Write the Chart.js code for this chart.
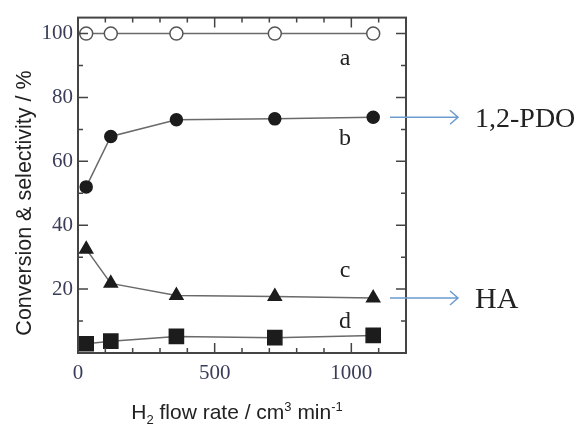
<!DOCTYPE html>
<html>
<head>
<meta charset="utf-8">
<script src="https://cdn.jsdelivr.net/npm/chart.js@4"></script>
<style>
  body { margin: 0; background: #fff; }
</style>
</head>
<body>
<canvas id="chart" width="580" height="425"></canvas>
<script>
// H2 flow rate (cm3/min)
const flowRates = [30, 120, 360, 720, 1080];
// a: conversion, b: 1,2-PDO selectivity, c: HA selectivity, d: others
const seriesA = [100, 100, 100, 100, 100];
const seriesB = [52, 67.8, 73, 73.3, 73.8];
const seriesC = [32.5, 21.8, 18, 17.7, 17.2];
const seriesD = [2.9, 3.7, 5.2, 4.8, 5.5];
const curveLabels = ["a", "b", "c", "d"];
const xLabelTicks = [0, 500, 1000];
const yLabelTicks = [20, 40, 60, 80, 100];

const toPoints = arr => arr.map((y, i) => ({ x: flowRates[i], y }));
const lineColor = "#6a6a6a";
const markColor = "#1c1c1c";
const tickColor = "#3a3d58";

function makeSet(label, data, style, radius, filled) {
  return {
    label,
    data: toPoints(data),
    borderColor: lineColor,
    borderWidth: 1.5,
    pointStyle: style,
    pointRadius: radius,
    pointHoverRadius: radius,
    pointBackgroundColor: filled ? markColor : "#fff",
    pointBorderColor: filled ? markColor : "#555",
    pointBorderWidth: 1.5,
    tension: 0
  };
}

// frame, inward ticks, titles and side notes
const extras = {
  id: "extras",
  afterDraw(chart) {
    const { ctx, chartArea: a, scales } = chart;
    const xs = scales.x, ys = scales.y;
    ctx.save();
    ctx.strokeStyle = "#444";
    ctx.lineWidth = 2;
    ctx.strokeRect(a.left, a.top, a.right - a.left, a.bottom - a.top);
    ctx.lineWidth = 1.5;
    ctx.beginPath();
    for (let v = 0; v <= 1200; v += 100) {
      const px = xs.getPixelForValue(v);
      const len = v % 500 === 0 ? 10 : 5;
      ctx.moveTo(px, a.bottom); ctx.lineTo(px, a.bottom - len);
      ctx.moveTo(px, a.top); ctx.lineTo(px, a.top + len);
    }
    for (let v = 0; v <= 100; v += 10) {
      const py = ys.getPixelForValue(v);
      const len = v % 20 === 0 ? 10 : 5;
      ctx.moveTo(a.left, py); ctx.lineTo(a.left + len, py);
      ctx.moveTo(a.right, py); ctx.lineTo(a.right - len, py);
    }
    ctx.stroke();

    // y title
    ctx.fillStyle = "#222";
    ctx.font = '21.5px "Liberation Sans", Arial, sans-serif';
    ctx.save();
    ctx.translate(31, 203);
    ctx.rotate(-Math.PI / 2);
    ctx.textAlign = "center";
    ctx.textBaseline = "alphabetic";
    ctx.fillText("Conversion & selectivity / %", 0, 0);
    ctx.restore();

    // x title with sub/superscripts
    const parts = [
      ["H", 0, 21], ["2", 5, 13], [" flow rate / cm", 0, 21],
      ["3", -8, 13], [" min", 0, 21], ["-1", -8, 13]
    ];
    let total = 0;
    parts.forEach(p => {
      ctx.font = p[2] + 'px "Liberation Sans", Arial, sans-serif';
      total += ctx.measureText(p[0]).width;
    });
    let cx = 237 - total / 2;
    ctx.textAlign = "left";
    parts.forEach(p => {
      ctx.font = p[2] + 'px "Liberation Sans", Arial, sans-serif';
      ctx.fillText(p[0], cx, 419 + p[1]);
      cx += ctx.measureText(p[0]).width;
    });

    // curve letters
    ctx.font = '24px "Liberation Serif", "Times New Roman", serif';
    ctx.textAlign = "center";
    const letterY = [65, 145, 277, 328];
    curveLabels.forEach((t, i) => ctx.fillText(t, 345, letterY[i]));

    // arrows to product names
    const arrowTo = (y, text, size) => {
      ctx.strokeStyle = "#6c9bcf";
      ctx.lineWidth = 1.5;
      ctx.beginPath();
      ctx.moveTo(390, y); ctx.lineTo(458, y);
      ctx.moveTo(450, y - 7); ctx.lineTo(458, y); ctx.lineTo(450, y + 7);
      ctx.stroke();
      ctx.fillStyle = "#222";
      ctx.font = size + 'px "Liberation Serif", "Times New Roman", serif';
      ctx.textAlign = "left";
      ctx.fillText(text, 475, y + 10);
    };
    arrowTo(ys.getPixelForValue(seriesB[4]), "1,2-PDO", 28);
    arrowTo(ys.getPixelForValue(seriesC[4]), "HA", 30);
    ctx.restore();
  }
};

new Chart(document.getElementById("chart"), {
  type: "line",
  data: {
    datasets: [
      makeSet("a", seriesA, "circle", 6.5, false),
      makeSet("b", seriesB, "circle", 6, true),
      makeSet("c", seriesC, "triangle", 7.5, true),
      makeSet("d", seriesD, "rect", 10, true)
    ]
  },
  options: {
    responsive: false,
    animation: false,
    layout: { padding: { top: 12, right: 174, left: 0, bottom: 0 } },
    plugins: { legend: { display: false }, tooltip: { enabled: false } },
    scales: {
      x: {
        type: "linear",
        min: 0,
        max: 1200,
        afterFit: s => { s.height = 72; },
        border: { display: false },
        grid: { drawOnChartArea: false, drawTicks: false },
        ticks: {
          stepSize: 100,
          autoSkip: false,
          maxRotation: 0,
          padding: 8,
          color: tickColor,
          font: { family: '"Liberation Serif", "Times New Roman", serif', size: 21 },
          callback: v => xLabelTicks.includes(v) ? String(v) : ""
        }
      },
      y: {
        min: 0,
        max: 105,
        afterFit: s => { s.width = 78; },
        afterBuildTicks: s => { s.ticks = yLabelTicks.map(v => ({ value: v })); },
        border: { display: false },
        grid: { drawOnChartArea: false, drawTicks: false },
        ticks: {
          autoSkip: false,
          padding: 5,
          color: tickColor,
          font: { family: '"Liberation Serif", "Times New Roman", serif', size: 21 },
          callback: v => String(v)
        }
      }
    }
  },
  plugins: [extras]
});
</script>
</body>
</html>
